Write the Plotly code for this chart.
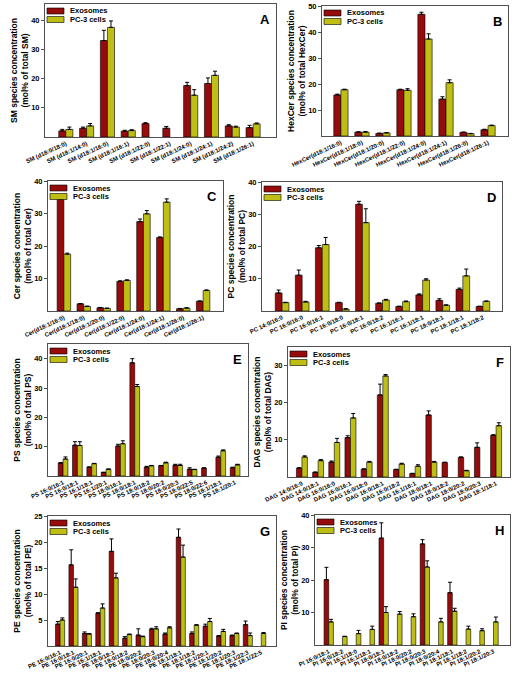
import plotly.graph_objects as go

W, H = 515, 678

# ---------------- data ----------------
sm_cats = ["SM (d18:0/18:0)", "SM (d18:1/14:0)", "SM (d18:1/16:0)", "SM (d18:1/16:1)", "SM (d18:1/22:0)",
           "SM (d18:1/22:1)", "SM (d18:1/24:0)", "SM (d18:1/24:1)", "SM (d18:1/24:2)", "SM (d18:1/26:1)"]
sm_exo = [2.1, 3.0, 33.0, 2.0, 4.6, 3.0, 17.6, 18.3, 3.8, 3.2]
sm_exo_err = [0.5, 0.4, 3.5, 0.3, 0.3, 0.6, 1.1, 1.9, 0.4, 0.8]
sm_pc3 = [2.6, 3.8, 37.5, 2.2, None, None, 14.3, 21.1, 3.4, 4.5]
sm_pc3_err = [0.8, 0.8, 2.2, 0.3, None, None, 1.9, 1.4, 0.3, 0.3]

hex_cats = ["HexCer(d18:1/16:0)", "HexCer(d18:1/18:0)", "HexCer(d18:1/20:0)", "HexCer(d18:1/22:0)",
            "HexCer(d18:1/24:0)", "HexCer(d18:1/24:1)", "HexCer(d18:1/26:0)", "HexCer(d18:1/26:1)"]
hex_exo = [15.8, 1.5, 1.0, 17.8, 46.8, 14.2, 1.4, 2.4]
hex_exo_err = [0.3, 0.1, 0.1, 0.2, 0.8, 0.9, 0.1, 0.2]
hex_pc3 = [17.8, 1.5, 1.2, 17.6, 37.3, 20.5, 0.9, 4.0]
hex_pc3_err = [0.2, 0.2, 0.1, 0.6, 2.0, 1.1, 0.1, 0.2]

cer_cats = ["Cer(d18:1/16:0)", "Cer(d18:1/18:0)", "Cer(d18:1/20:0)", "Cer(d18:1/22:0)",
            "Cer(d18:1/24:0)", "Cer(d18:1/24:1)", "Cer(d18:1/26:0)", "Cer(d18:1/26:1)"]
cer_exo = [34.3, 2.2, 1.0, 9.1, 27.5, 22.6, 0.7, 3.0]
cer_exo_err = [0.3, 0.1, 0.1, 0.2, 0.8, 0.2, 0.1, 0.1]
cer_pc3 = [17.5, 1.4, 0.8, 9.4, 29.9, 33.5, 0.9, 6.3]
cer_pc3_err = [0.3, 0.1, 0.1, 0.2, 1.0, 1.0, 0.1, 0.2]

pc_cats = ["PC 14:0/16:0", "PC 16:0/16:0", "PC 16:0/16:1", "PC 16:0/18:0", "PC 16:0/18:1", "PC 16:0/18:2",
           "PC 16:1/16:1", "PC 16:1/18:1", "PC 18:0/18:1", "PC 18:1/18:1", "PC 18:1/18:2"]
pc_exo = [5.6, 11.1, 19.6, 2.6, 33.1, 2.4, 1.4, 5.0, 3.3, 6.7, 1.4]
pc_exo_err = [0.9, 1.6, 0.7, 0.1, 0.9, 0.1, 0.1, 0.3, 0.5, 0.4, 0.1]
pc_pc3 = [2.6, 2.8, 20.6, 0.6, 27.4, 3.4, 2.9, 9.6, 1.8, 10.9, 3.0]
pc_pc3_err = [0.1, 0.2, 2.2, 0.1, 4.3, 0.2, 0.2, 0.4, 0.1, 2.1, 0.1]

ps_cats = ["PS 16:0/16:1", "PS 16:0/18:1", "PS 16:1/18:1", "PS 16:1/20:1", "PS 18:0/16:1", "PS 18:0/18:1",
           "PS 18:0/18:2", "PS 18:0/20:2", "PS 18:0/20:3", "PS 18:0/22:5", "PS 18:0/22:6", "PS 18:1/18:1",
           "PS 18:1/20:1"]
ps_exo = [4.4, 10.5, 3.0, 1.2, 10.2, 38.6, 3.0, 3.5, 3.7, 2.3, 2.7, 6.4, 2.8]
ps_exo_err = [0.2, 1.2, 0.1, 0.1, 0.6, 1.4, 0.3, 0.1, 0.3, 0.5, 0.1, 0.4, 0.2]
ps_pc3 = [5.8, 10.4, 4.2, 2.3, 11.0, 30.5, 3.5, 4.5, 3.6, 2.2, None, 8.6, 3.8]
ps_pc3_err = [0.7, 1.3, 0.1, 0.1, 1.0, 0.7, 0.1, 0.2, 0.4, 0.1, None, 0.3, 0.2]

dag_cats = ["DAG 14:0/16:0", "DAG 14:0/18:1", "DAG 16:0/16:0", "DAG 16:0/16:1", "DAG 16:0/18:0",
            "DAG 16:0/18:1", "DAG 16:0/18:2", "DAG 16:1/16:1", "DAG 18:0/18:1", "DAG 18:0/18:2",
            "DAG 18:0/20:2", "DAG 18:0/20:3", "DAG 18:1/18:1"]
dag_exo = [2.4, 1.25, 4.0, 10.6, 2.1, 22.1, 2.0, 0.9, 16.7, 3.9, 5.3, 8.0, 11.2]
dag_exo_err = [0.1, 0.1, 0.3, 0.5, 0.1, 2.9, 0.1, 0.1, 1.1, 0.1, 0.1, 1.2, 0.2]
dag_pc3 = [5.4, 4.4, 9.3, 15.9, 4.0, 27.2, 3.5, 2.9, 4.0, None, 1.7, None, 13.8]
dag_pc3_err = [0.3, 0.3, 1.1, 1.2, 0.2, 0.4, 0.2, 0.4, 0.2, None, 0.1, None, 0.8]

pe_cats = ["PE 16:0/16:1", "PE 16:0/18:1", "PE 16:0/20:1", "PE 16:1/18:1", "PE 18:0/18:1", "PE 18:0/18:2",
           "PE 18:0/20:2", "PE 18:0/20:3", "PE 18:0/20:4", "PE 18:1/18:1", "PE 18:1/18:2", "PE 18:1/20:1",
           "PE 18:1/20:2", "PE 18:1/20:3", "PE 18:1/22:3", "PE 18:1/22:5"]
pe_exo = [4.2, 15.6, 2.4, 6.3, 18.2, 1.5, 2.1, 3.2, 2.3, 20.9, 2.4, 3.8, 1.9, 2.0, 4.1, None]
pe_exo_err = [0.5, 2.9, 0.3, 0.1, 2.4, 0.3, 1.2, 0.2, 0.2, 1.6, 0.3, 0.4, 0.1, 0.1, 0.7, None]
pe_pc3 = [5.0, 11.3, 2.3, 7.3, 13.1, 2.2, 1.8, 3.3, 3.5, 17.1, 4.0, 4.7, 2.8, 2.4, 2.0, 2.4]
pe_pc3_err = [0.4, 1.6, 0.1, 0.8, 0.9, 0.1, 0.1, 0.4, 0.2, 2.3, 0.1, 0.6, 0.4, 0.1, 0.5, 0.2]

pi_cats = ["PI 16:0/18:1", "PI 16:0/18:2", "PI 16:1/18:0", "PI 16:1/18:1", "PI 18:0/18:1", "PI 18:0/18:2",
           "PI 18:0/20:2", "PI 18:0/20:3", "PI 18:0/20:4", "PI 18:1/18:1", "PI 18:1/18:2", "PI 18:1/20:2",
           "PI 18:1/20:3"]
pi_exo = [20.1, None, None, None, 32.9, None, None, 31.1, None, 16.1, None, None, None]
pi_exo_err = [3.8, None, None, None, 4.7, None, None, 1.3, None, 3.2, None, None, None]
pi_pc3 = [7.1, 2.6, 3.5, 4.8, 10.0, 9.5, 8.7, 24.0, 7.1, 10.4, 4.9, 4.4, 7.1]
pi_pc3_err = [0.8, 0.1, 1.0, 1.0, 1.8, 0.8, 0.9, 1.9, 1.1, 0.9, 0.9, 0.6, 1.5]

series_names = ["Exosomes", "PC-3 cells"]
panel_letters = ["A", "B", "C", "D", "E", "F", "G", "H"]
y_titles = ["SM species concentration<br>(mol% of total SM)",
            "HexCer species concentration<br>(mol% of total HexCer)",
            "Cer species concentration<br>(mol% of total Cer)",
            "PC species concentration<br>(mol% of total PC)",
            "PS species concentration<br>(mol% of total PS)",
            "DAG species concentration<br>(mol% of total DAG)",
            "PE species concentration<br>(mol% of total PE)",
            "PI species concentration<br>(mol% of total PI)"]
y_ticks = [[10, 20, 30, 40], [10, 20, 30, 40, 50], [10, 20, 30, 40], [10, 20, 30, 40],
           [10, 20, 30, 40], [10, 20, 30], [5, 10, 15, 20, 25], [10, 20, 30, 40]]

panels = [
    (sm_cats, sm_exo, sm_exo_err, sm_pc3, sm_pc3_err),
    (hex_cats, hex_exo, hex_exo_err, hex_pc3, hex_pc3_err),
    (cer_cats, cer_exo, cer_exo_err, cer_pc3, cer_pc3_err),
    (pc_cats, pc_exo, pc_exo_err, pc_pc3, pc_pc3_err),
    (ps_cats, ps_exo, ps_exo_err, ps_pc3, ps_pc3_err),
    (dag_cats, dag_exo, dag_exo_err, dag_pc3, dag_pc3_err),
    (pe_cats, pe_exo, pe_exo_err, pe_pc3, pe_pc3_err),
    (pi_cats, pi_exo, pi_exo_err, pi_pc3, pi_pc3_err),
]

# ---------------- layout (pixel boxes: x0, x1, ytop, ybottom) ----------------
boxes = [(45, 276, 4, 137), (322, 508, 6, 136),
         (48, 223, 181, 311), (262, 502, 182, 311),
         (48, 248, 344, 476), (288, 510, 347, 477),
         (48, 276, 516, 646), (315, 510, 515, 645)]
y_ranges = [[0, 45.5], [0, 50], [0, 40], [0, 40], [0, 45], [0, 35], [0, 25], [0, 40]]
x_ranges = [[-1.0, 10.1], [-0.9, 7.95], [-0.8, 8.0], [-1.0, 10.95],
            [-1.05, 12.9], [-0.86, 12.86], [-0.9, 16.1], [-1.0, 13.2]]

RED = "#960C0C"
YEL = "#BEBE14"
FONT = "Liberation Sans, Arial, sans-serif"
colors = [RED, YEL]

fig = go.Figure()
layout = dict(width=W, height=H, margin=dict(l=0, r=0, t=0, b=0, autoexpand=False),
              paper_bgcolor="white", plot_bgcolor="white",
              barmode="group", bargap=0.32, bargroupgap=0.0, showlegend=False,
              font=dict(family=FONT, color="black"), annotations=[], shapes=[])

def px(x):
    return x / W

def py(y):
    return 1 - y / H

for i, (cats, exo, exo_err, pc3, pc3_err) in enumerate(panels):
    n = i + 1
    xa = "x" if n == 1 else f"x{n}"
    ya = "y" if n == 1 else f"y{n}"
    x0, x1, yt, yb = boxes[i]
    for name, vals, errs, col in [(series_names[0], exo, exo_err, RED),
                                  (series_names[1], pc3, pc3_err, YEL)]:
        fig.add_trace(go.Bar(
            x=cats, y=vals, name=name, xaxis=xa, yaxis=ya,
            marker=dict(color=col, line=dict(color="black", width=0.6)),
            error_y=dict(type="data", array=errs, arrayminus=[0] * len(errs), symmetric=False,
                         color="black", thickness=1, width=2),
            offsetgroup=name, showlegend=False,
        ))
    xkey = "xaxis" if n == 1 else f"xaxis{n}"
    ykey = "yaxis" if n == 1 else f"yaxis{n}"
    layout[xkey] = dict(domain=[px(x0), px(x1)], anchor=ya, range=x_ranges[i], automargin=False,
                        showline=True, mirror=True, linecolor="#505050", linewidth=1,
                        ticks="", tickangle=-25, showgrid=False,
                        tickfont=dict(size=6, family=FONT, color="black", weight="bold"))
    layout[ykey] = dict(domain=[py(yb), py(yt)], anchor=xa, range=y_ranges[i], automargin=False,
                        showline=True, mirror=True, linecolor="#505050", linewidth=1,
                        ticks="outside", ticklen=3, tickcolor="#505050", tickvals=y_ticks[i],
                        showgrid=False, zeroline=False,
                        tickfont=dict(size=7.5, family=FONT, color="black", weight="bold"),
                        title=dict(text=y_titles[i], standoff=1,
                                   font=dict(size=8.5, family=FONT, color="black", weight="bold")))
    # legend (drawn as swatches + text inside the panel's top-left corner)
    for k, (name, col) in enumerate(zip(series_names, colors)):
        top = yt + 4 + k * 8.5
        layout["shapes"].append(dict(type="rect", xref="paper", yref="paper",
                                     x0=px(x0 + 2), x1=px(x0 + 19), y0=py(top + 6), y1=py(top),
                                     fillcolor=col, line=dict(color="black", width=0.6)))
        layout["annotations"].append(dict(
            text=name, x=px(x0 + 23), y=py(top + 3), xref="paper", yref="paper",
            xanchor="left", yanchor="middle", showarrow=False,
            font=dict(size=7.5, family=FONT, color="black", weight="bold")))
    layout["annotations"].append(dict(
        text=panel_letters[i], x=px(x1 - 4), y=py(yt + 6), xref="paper", yref="paper",
        xanchor="right", yanchor="top", showarrow=False,
        font=dict(size=13, family=FONT, color="black", weight="bold")))

fig.update_layout(**layout)
fig.write_html("out.html", config={"displayModeBar": False},
               post_script="document.body.style.margin='0px';document.body.style.padding='0px';")
